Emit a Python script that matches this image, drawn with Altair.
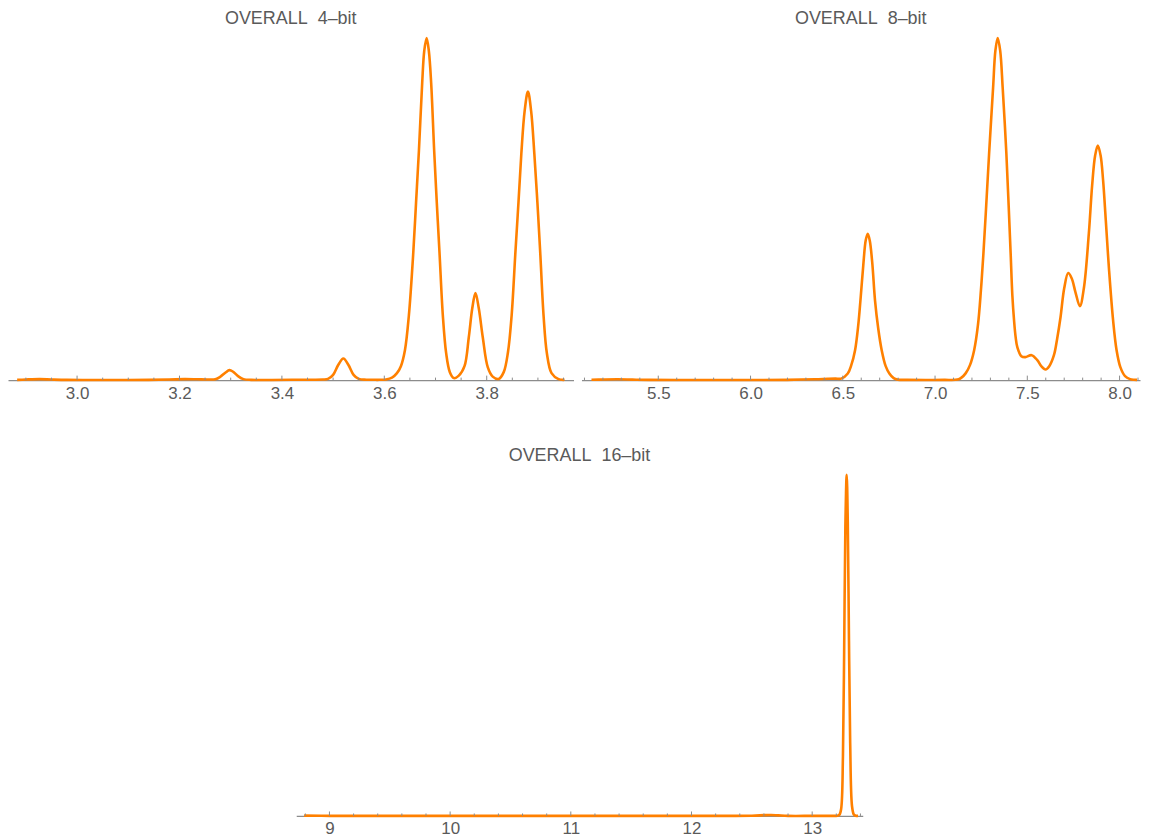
import altair as alt
import pandas as pd

# ---------------- data ----------------
# OVERALL 4-bit : smoothed density (relative units)
x4 = [2.883, 2.90, 2.927, 2.95, 2.98, 3.02, 3.08, 3.14, 3.18, 3.21, 3.235, 3.255,
      3.27, 3.28, 3.29, 3.2975, 3.305, 3.315, 3.325, 3.34, 3.38, 3.42, 3.46, 3.48,
      3.49, 3.50, 3.51, 3.52, 3.53, 3.54, 3.55, 3.565, 3.58, 3.59, 3.6033, 3.615,
      3.6247, 3.6324, 3.6403, 3.648, 3.6565, 3.662, 3.6676, 3.674, 3.678, 3.6826,
      3.687, 3.6915, 3.6974, 3.7025, 3.7079, 3.7143, 3.7208, 3.728, 3.7358, 3.7455,
      3.7566, 3.765, 3.7718, 3.778, 3.7845, 3.7923, 3.802, 3.8117, 3.8234, 3.8332,
      3.8415, 3.8487, 3.8559, 3.862, 3.8676, 3.8741, 3.8805, 3.8867, 3.893, 3.899,
      3.9046, 3.911, 3.9175, 3.9266, 3.9403, 3.952]
d4 = [0.2, 0.6, 1.0, 0.6, 0.2, 0.1, 0.1, 0.2, 0.6, 1.0, 0.8, 0.6,
      0.9, 3.5, 7.6, 10.0, 8.3, 3.8, 1.0, 0.2, 0.1, 0.3, 0.4, 0.6,
      1.2, 5.3, 15.2, 21.7, 15.2, 5.3, 1.2, 0.4, 0.3, 0.3, 0.7, 2.5,
      7.0, 14.0, 30.0, 65.0, 127.0, 178.0, 230.0, 298.0, 330.0, 343.0,
      330.0, 298.0, 230.0, 178.0, 127.0, 65.0, 27.0, 8.0, 2.0, 4.5,
      14.0, 43.0, 72.0, 87.3, 72.0, 43.0, 13.0, 3.5, 1.2, 8.0,
      28.0, 65.0, 127.0, 178.0, 227.0, 270.0, 289.3, 270.0, 227.0, 178.0,
      127.0, 65.0, 27.0, 7.0, 1.0, 0.3]

# OVERALL 8-bit
x8 = [5.138, 5.2, 5.28, 5.36, 5.45, 5.6, 5.8, 6.0, 6.2, 6.35, 6.42, 6.46, 6.491,
      6.527, 6.546, 6.5665, 6.5838, 6.5957, 6.611, 6.6243, 6.6351, 6.6459, 6.6595,
      6.6746, 6.6919, 6.7108, 6.7324, 6.7524, 6.7757, 6.7973, 6.85, 6.95, 7.05,
      7.1216, 7.1432, 7.1665, 7.1892, 7.2119, 7.2324, 7.2486, 7.2622, 7.2773, 7.293,
      7.3146, 7.327, 7.3395, 7.353, 7.3665, 7.3865, 7.3989, 7.4097, 7.4189, 7.4281,
      7.4368, 7.4459, 7.4676, 7.4892, 7.5232, 7.5541, 7.5757, 7.5989, 7.6189, 7.6443,
      7.6622, 7.68, 7.70, 7.7216, 7.7405, 7.7611, 7.7849, 7.8065, 7.8335, 7.8514,
      7.8676, 7.8822, 7.8973, 7.9108, 7.9254, 7.9432, 7.9649, 7.9838, 8.0043, 8.0297,
      8.0568, 8.0784, 8.0946]
d8 = [0.3, 0.6, 0.8, 0.5, 0.2, 0.1, 0.1, 0.1, 0.2, 0.8, 1.3, 1.5, 1.5,
      6.7, 15.0, 30.0, 55.0, 80.0, 115.0, 140.0, 146.7, 140.0, 118.0,
      80.0, 52.0, 30.0, 14.0, 6.7, 2.0, 0.5, 0.2, 0.1, 0.2,
      0.5, 2.5, 7.0, 15.0, 30.0, 55.0, 90.0, 127.0, 175.0, 227.0,
      293.0, 330.0, 342.7, 330.0, 293.0, 227.0, 175.0, 127.0, 85.0, 60.0,
      43.0, 33.0, 24.0, 23.0, 25.0, 20.0, 14.0, 10.7, 14.0, 25.0,
      42.0, 63.0, 92.0, 107.3, 102.0, 88.0, 74.0, 92.0, 147.0, 195.0,
      225.0, 235.0, 225.0, 200.0, 160.0, 110.0, 60.0, 30.0, 13.0, 4.0,
      1.0, 0.3, 0.2]

# OVERALL 16-bit
x16 = [8.79, 9.0, 9.5, 10.0, 10.5, 11.0, 11.5, 12.0, 12.5, 12.6, 12.66, 12.72, 12.8,
       13.0, 13.15, 13.21, 13.225, 13.24, 13.255, 13.265, 13.275, 13.286, 13.295,
       13.305, 13.315, 13.33, 13.345, 13.36, 13.38]
d16 = [0.3, 0.1, 0.1, 0.1, 0.1, 0.1, 0.1, 0.1, 0.2, 0.8, 1.0, 0.6, 0.1,
       0.1, 0.1, 0.3, 1.0, 7.0, 60.0, 165.0, 290.0, 342.0, 295.0,
       176.0, 73.0, 10.0, 1.5, 0.3, 0.1]

# axis tick values
maj4 = [3.0, 3.2, 3.4, 3.6, 3.8]
min4 = [2.9, 2.95, 3.05, 3.1, 3.15, 3.25, 3.3, 3.35, 3.45, 3.5, 3.55,
        3.65, 3.7, 3.75, 3.85, 3.9, 3.95]
maj8 = [5.5, 6.0, 6.5, 7.0, 7.5, 8.0]
min8 = [5.1, 5.2, 5.3, 5.4, 5.6, 5.7, 5.8, 5.9, 6.1, 6.2, 6.3, 6.4, 6.6, 6.7, 6.8,
        6.9, 7.1, 7.2, 7.3, 7.4, 7.6, 7.7, 7.8, 7.9, 8.1]
maj16 = [9, 10, 11, 12, 13]
min16 = [8.8, 9.2, 9.4, 9.6, 9.8, 10.2, 10.4, 10.6, 10.8, 11.2, 11.4, 11.6, 11.8,
         12.2, 12.4, 12.6, 12.8, 13.2, 13.4]

titles = ["OVERALL\u00a0 4\u2013bit", "OVERALL\u00a0 8\u2013bit", "OVERALL\u00a0 16\u2013bit"]

# ---------------- styling ----------------
ORANGE = "#FF8000"
AXIS = "#8c8c8c"
TEXT = "#5a5a5a"
FONT = "Liberation Sans"


def panel(xs, ys, title, domain, majors, minors, fmt, w, h, toff):
    curve = pd.DataFrame({"v": xs, "density": ys})
    xscale = alt.Scale(domain=domain, nice=False, zero=False)
    xaxis = alt.Axis(values=majors, format=fmt, title=None, grid=False,
                     ticks=False, tickSize=0, domainColor=AXIS, domainWidth=1.2,
                     labelColor=TEXT, labelFont=FONT, labelFontSize=17,
                     labelPadding=5, labelFlush=False)
    line = alt.Chart(curve).mark_line(
        color=ORANGE, strokeWidth=2.6, interpolate="catmull-rom"
    ).encode(
        x=alt.X("v:Q", scale=xscale, axis=xaxis),
        y=alt.Y("density:Q", scale=alt.Scale(domain=[0, max(ys)], nice=False), axis=None),
    )
    tmaj = alt.Chart(pd.DataFrame({"v": majors})).mark_rule(
        color=AXIS, strokeWidth=1
    ).encode(x=alt.X("v:Q", scale=xscale, axis=xaxis),
             y=alt.value(h - 4.5), y2=alt.value(h))
    tmin = alt.Chart(pd.DataFrame({"v": minors})).mark_rule(
        color=AXIS, strokeWidth=1
    ).encode(x=alt.X("v:Q", scale=xscale, axis=xaxis),
             y=alt.value(h - 2.5), y2=alt.value(h))
    return alt.layer(line, tmaj, tmin).properties(
        width=w, height=h,
        title=alt.TitleParams(title, font=FONT, fontSize=18, fontWeight="normal",
                              color=TEXT, anchor="middle", offset=toff),
    )


p1 = panel(x4, d4, titles[0], [2.8651, 3.9695], maj4, min4, ".1f", 567, 343, 5)
p2 = panel(x8, d8, titles[1], [5.0838, 8.1108], maj8, min8, ".1f", 560, 343, 5)
p3 = panel(x16, d16, titles[2], [8.7248, 13.419], maj16, min16, "d", 568, 342, 5)

spacer = alt.Chart(pd.DataFrame({"s": [0]})).mark_point(opacity=0).encode(
    x=alt.value(10), y=alt.value(5)
).properties(width=289, height=10)

top = alt.hconcat(p1, p2, spacing=8)
bottom = alt.hconcat(spacer, p3, spacing=0)

chart = alt.vconcat(top, bottom, spacing=45).properties(
    padding=0, background="white"
).configure_view(stroke=None)

chart.save("out.html", embed_options={"renderer": "svg", "actions": False})
